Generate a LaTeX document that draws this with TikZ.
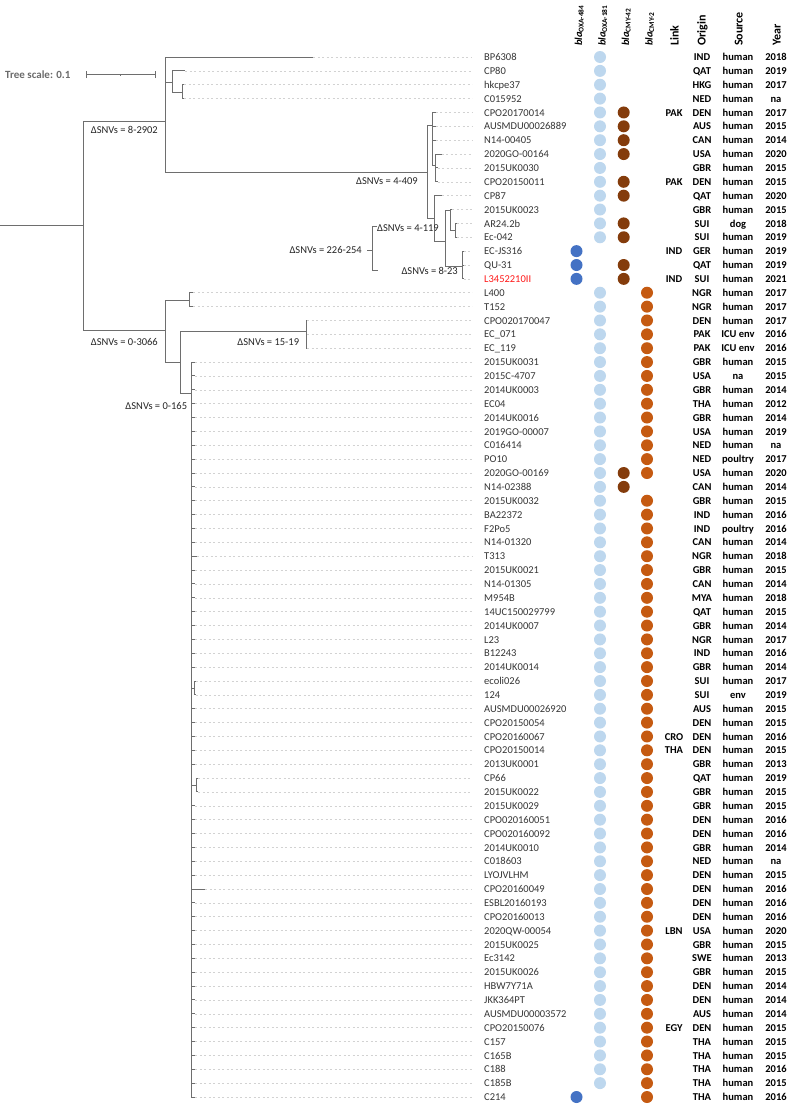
\documentclass[tikz,border=0pt]{standalone}
\usepackage{fontspec}
\setmainfont{Carlito}
\definecolor{treec}{HTML}{6E6E6E}
\definecolor{leadc}{HTML}{D2D2D2}
\definecolor{labc}{HTML}{363636}
\definecolor{c181}{HTML}{BDD7EE}
\definecolor{c484}{HTML}{4472C4}
\definecolor{c42}{HTML}{843C0C}
\definecolor{c2}{HTML}{C55A11}
\definecolor{redlab}{HTML}{FF1A1A}
\definecolor{scalec}{HTML}{6B6B6B}
\tikzset{
 br/.style={draw=treec, line width=0.9pt},
 leader/.style={draw=leadc, line width=0.6pt, dash pattern=on 2pt off 2.5pt},
 lab/.style={anchor=west, inner sep=0pt, text height=7.2pt, text depth=0pt, text=labc, font=\fontsize{10.5}{12}\selectfont},
 col/.style={anchor=center, inner sep=0pt, text height=7.2pt, text depth=0pt, font=\bfseries\fontsize{10.5}{12}\selectfont},
 dot/.style={circle, inner sep=0pt, minimum size=12pt},
 snv/.style={anchor=east, inner sep=0pt, text height=7.2pt, text depth=0pt, font=\fontsize{10.5}{12}\selectfont, text=black!85},
 hdr/.style={rotate=90, anchor=base west, inner sep=0pt, font=\bfseries\fontsize{10.5}{12}\selectfont},
 hdrb/.style={hdr, font=\bfseries\fontsize{12}{14}\selectfont},
}
\begin{document}
\begin{tikzpicture}[x=1pt,y=-1pt]
\path[use as bounding box, fill=white] (0,0) rectangle (789,1106);
% headers
\node[hdr] (h484) at (582,46) {\textit{bla}\textsubscript{OXA-484}};
\node[hdr] (h181) at (605.5,46) {\textit{bla}\textsubscript{OXA-181}};
\node[hdr] (h42) at (629,46) {\textit{bla}\textsubscript{CMY-42}};
\node[hdr] (h2) at (652.5,46) {\textit{bla}\textsubscript{CMY-2}};
\node[hdrb] (hlink) at (678.5,46) {Link};
\node[hdrb] (horig) at (705.5,46) {Origin};
\node[hdrb] (hsrc) at (742.5,46) {Source};
\node[hdrb] (hyear) at (780.5,46) {Year};
% tree scale
\node[anchor=west, inner sep=0pt, text height=7.2pt, text depth=0pt, text=scalec, font=\bfseries\fontsize{11}{13}\selectfont] (ts) at (5,74.7) {Tree scale: 0.1};
\coordinate (sb1) at (86,74.7);
\coordinate (sb2) at (155,74.7);
\coordinate (sbm) at (120,74.7);
\draw[br] (sb1) -- (sb2);
\draw[br] ([yshift=-3.5pt]sb1) -- ([yshift=3.5pt]sb1);
\draw[br] ([yshift=-3.5pt]sb2) -- ([yshift=3.5pt]sb2);
\draw[br, line width=0.6pt] ([yshift=-1.2pt]sbm) -- ([yshift=1.2pt]sbm);
\coordinate (lead) at (472,0);
% leaves
\foreach \i/\nm/\tx in {1/BP6308/313, 2/CP80/185, 3/hkcpe37/184, 4/C015952/184,
 5/CPO20170014/435.5, 6/AUSMDU00026889/435.5, 7/N14-00405/435.5, 8/2020GO-00164/441.7,
 9/2015UK0030/437.5, 10/CPO20150011/437.5, 11/CP87/442.3, 12/2015UK0023/452,
 13/AR24.2b/456.5, 14/Ec-042/456.5, 15/EC-JS316/463.5, 16/QU-31/463.5,
 17/\textcolor{redlab}{L3452210II}/463.5, 18/L400/193, 19/T152/193, 20/CPO020170047/307,
 21/EC\_071/307, 22/EC\_119/307, 23/2015UK0031/195, 24/2015C-4707/195, 25/2014UK0003/195,
 26/EC04/195, 27/2014UK0016/195, 28/2019GO-00007/195, 29/C016414/195, 30/PO10/195,
 31/2020GO-00169/195, 32/N14-02388/195, 33/2015UK0032/195, 34/BA22372/195, 35/F2Po5/195,
 36/N14-01320/195, 37/T313/197, 38/2015UK0021/195, 39/N14-01305/195, 40/M954B/195,
 41/14UC150029799/195, 42/2014UK0007/195, 43/L23/195, 44/B12243/195, 45/2014UK0014/195,
 46/ecoli026/195.5, 47/124/195.5, 48/AUSMDU00026920/195, 49/CPO20150054/195,
 50/CPO20160067/195, 51/CPO20150014/195, 52/2013UK0001/195, 53/CP66/198, 54/2015UK0022/198,
 55/2015UK0029/195, 56/CPO020160051/195, 57/CPO020160092/195, 58/2014UK0010/195,
 59/C018603/195, 60/LYOJVLHM/195, 61/CPO20160049/205, 62/ESBL20160193/195,
 63/CPO20160013/195, 64/2020QW-00054/195, 65/2015UK0025/195, 66/Ec3142/195,
 67/2015UK0026/195, 68/HBW7Y71A/195, 69/JKK364PT/195, 70/AUSMDU00003572/195,
 71/CPO20150076/195, 72/C157/195, 73/C165B/195, 74/C188/195, 75/C185B/195, 76/C214/195}{
 \pgfmathsetmacro\yy{57+(\i-1)*13.8667}
 \coordinate (t\i) at (\tx,\yy);
 \node[lab] (n\i) at (484,\yy) {\nm};
 \draw[leader] (t\i) -- (t\i -| lead);
}
% metadata
\foreach \i/\o/\s/\yr in {1/IND/human/2018, 2/QAT/human/2019, 3/HKG/human/2017, 4/NED/human/na,
 5/DEN/human/2017, 6/AUS/human/2015, 7/CAN/human/2014, 8/USA/human/2020, 9/GBR/human/2015,
 10/DEN/human/2015, 11/QAT/human/2020, 12/GBR/human/2015, 13/SUI/dog/2018, 14/SUI/human/2019,
 15/GER/human/2019, 16/QAT/human/2019, 17/SUI/human/2021, 18/NGR/human/2017, 19/NGR/human/2017,
 20/DEN/human/2017, 21/PAK/ICU env/2016, 22/PAK/ICU env/2016, 23/GBR/human/2015, 24/USA/na/2015,
 25/GBR/human/2014, 26/THA/human/2012, 27/GBR/human/2014, 28/USA/human/2019, 29/NED/human/na,
 30/NED/poultry/2017, 31/USA/human/2020, 32/CAN/human/2014, 33/GBR/human/2015, 34/IND/human/2016,
 35/IND/poultry/2016, 36/CAN/human/2014, 37/NGR/human/2018, 38/GBR/human/2015, 39/CAN/human/2014,
 40/MYA/human/2018, 41/QAT/human/2015, 42/GBR/human/2014, 43/NGR/human/2017, 44/IND/human/2016,
 45/GBR/human/2014, 46/SUI/human/2017, 47/SUI/env/2019, 48/AUS/human/2015, 49/DEN/human/2015,
 50/DEN/human/2016, 51/DEN/human/2015, 52/GBR/human/2013, 53/QAT/human/2019, 54/GBR/human/2015,
 55/GBR/human/2015, 56/DEN/human/2016, 57/DEN/human/2016, 58/GBR/human/2014, 59/NED/human/na,
 60/DEN/human/2015, 61/DEN/human/2016, 62/DEN/human/2016, 63/DEN/human/2016, 64/USA/human/2020,
 65/GBR/human/2015, 66/SWE/human/2013, 67/GBR/human/2015, 68/DEN/human/2014, 69/DEN/human/2014,
 70/AUS/human/2014, 71/DEN/human/2015, 72/THA/human/2015, 73/THA/human/2015, 74/THA/human/2016,
 75/THA/human/2015, 76/THA/human/2016}{
 \pgfmathsetmacro\yy{57+(\i-1)*13.8667}
 \node[col] (o\i) at (702,\yy) {\o};
 \node[col] (s\i) at (738,\yy) {\s};
 \node[col] (y\i) at (776,\yy) {\yr};
}
\foreach \i/\l in {5/PAK, 10/PAK, 15/IND, 17/IND, 50/CRO, 51/THA, 64/LBN, 71/EGY}{
 \pgfmathsetmacro\yy{57+(\i-1)*13.8667}
 \node[col] (k\i) at (674,\yy) {\l};
}
% dots
\foreach \i in {15,16,17,76}{
 \pgfmathsetmacro\yy{57+(\i-1)*13.8667}
 \node[dot, fill=c484] (da\i) at (576.5,\yy) {};
}
\foreach \i in {1,...,14}{
 \pgfmathsetmacro\yy{57+(\i-1)*13.8667}
 \node[dot, fill=c181] (db\i) at (600,\yy) {};
}
\foreach \i in {18,...,75}{
 \pgfmathsetmacro\yy{57+(\i-1)*13.8667}
 \node[dot, fill=c181] (db\i) at (600,\yy) {};
}
\foreach \i in {5,6,7,8,10,11,13,14,16,17,31,32}{
 \pgfmathsetmacro\yy{57+(\i-1)*13.8667}
 \node[dot, fill=c42] (dc\i) at (623.7,\yy) {};
}
\foreach \i in {18,...,31}{
 \pgfmathsetmacro\yy{57+(\i-1)*13.8667}
 \node[dot, fill=c2] (dd\i) at (647,\yy) {};
}
\foreach \i in {33,...,76}{
 \pgfmathsetmacro\yy{57+(\i-1)*13.8667}
 \node[dot, fill=c2] (dd\i) at (647,\yy) {};
}
% internal nodes
\coordinate (rs) at (0,225.7);
\coordinate (R0) at (83,225.7);
\coordinate (A) at (165,121);
\coordinate (B) at (165,330.7);
\coordinate (A1) at (172,82.3);
\coordinate (A11) at (182.3,92.7);
\coordinate (A2) at (427.3,172);
\coordinate (N2) at (432,125);
\coordinate (N3) at (435,165);
\coordinate (N5) at (434,218.3);
\coordinate (N6) at (445,241.7);
\coordinate (N7) at (450.7,210);
\coordinate (N9) at (455,230.7);
\coordinate (N8) at (462.7,266.7);
\coordinate (B1) at (189.3,300.7);
\coordinate (B2) at (180.7,362.3);
\coordinate (B3) at (306,331);
\coordinate (B4) at (191.7,393.3);
\coordinate (C46) at (194,688);
\coordinate (C53) at (196.7,785);
% edges
\draw[br] (rs) -- (R0);
\foreach \p/\c in {R0/A, R0/B, A/t1, A/A1, A/A2, A1/t2, A1/A11, A11/t3, A11/t4,
 A2/N2, A2/N5, N2/t5, N2/t6, N2/t7, N2/N3, N3/t8, N3/t9, N3/t10, N5/t11, N5/N6,
 N6/N7, N6/N8, N7/t12, N7/N9, N9/t13, N9/t14, N8/t15, N8/t16, N8/t17,
 B/B1, B/B2, B1/t18, B1/t19, B2/B3, B2/B4, B3/t20, B3/t21, B3/t22,
 B4/C46, B4/C53, C46/t46, C46/t47, C53/t53, C53/t54}{
 \draw[br] (\p) |- (\c);
}
\foreach \i in {23,...,45}{
 \draw[br] (B4) |- (t\i);
}
\foreach \i in {48,...,52}{
 \draw[br] (B4) |- (t\i);
}
\foreach \i in {55,...,76}{
 \draw[br] (B4) |- (t\i);
}
% SNV bracket
\coordinate (bt) at (372,226.7);
\coordinate (bb) at (372,270);
\coordinate (bm) at (372,250);
\draw[br, line width=0.8pt] ([xshift=5pt]bt) -- (bt) -- (bb) -- ([xshift=6pt]bb);
\draw[br, line width=0.8pt] (bm) -- ([xshift=-5pt]bm);
% SNV labels
\node[snv] (l1) at (158,130) {ΔSNVs = 8-2902};
\node[snv] (l2) at (418,180.7) {ΔSNVs = 4-409};
\node[snv] (l3) at (362,250) {ΔSNVs = 226-254};
\node[snv, anchor=west] (l4) at (377,227.7) {ΔSNVs = 4-119};
\node[snv] (l5) at (458,270.7) {ΔSNVs = 8-23};
\node[snv] (l6) at (158,341.7) {ΔSNVs = 0-3066};
\node[snv] (l7) at (299.3,341.7) {ΔSNVs = 15-19};
\node[snv] (l8) at (187.3,405.7) {ΔSNVs = 0-165};
\end{tikzpicture}
\end{document}
